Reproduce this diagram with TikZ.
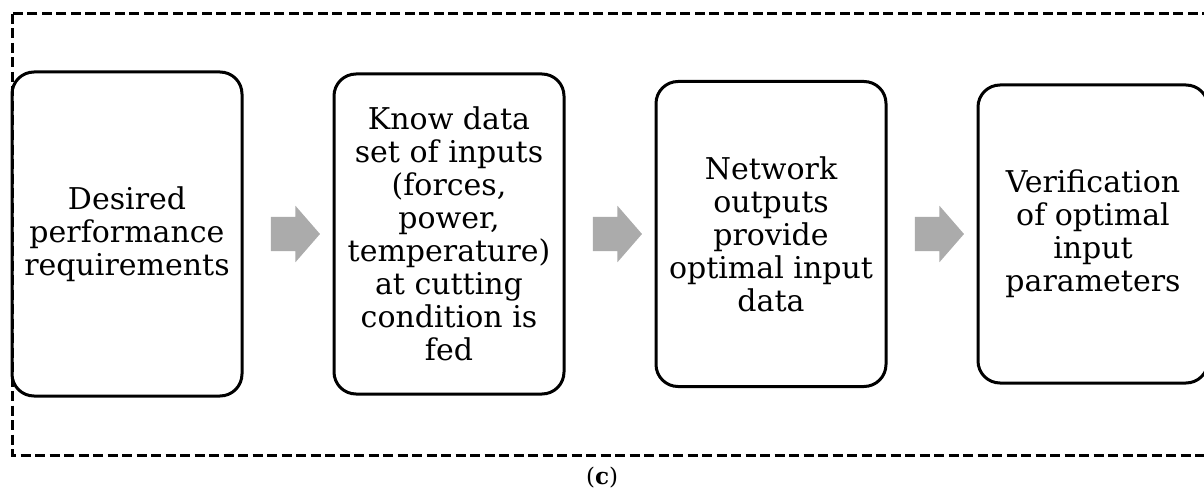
\documentclass[tikz,border=0pt]{standalone}
\usepackage{fontspec}
\setmainfont{DejaVu Serif}
\usepackage{tikz}
\usetikzlibrary{positioning,shapes.arrows,calc}
\tikzstyle{block} = [draw=black, line width=3pt, rounded corners=22pt, minimum width=230pt, inner sep=2pt, align=center, font=\fontsize{30}{33}\selectfont]
\tikzstyle{flow} = [single arrow, fill=black!33, draw=none, minimum height=49pt, inner xsep=0pt, inner ysep=17pt, single arrow head extend=11pt, single arrow tip angle=98]

\begin{document}
\begin{tikzpicture}[x=1pt, y=-1pt, node distance=89pt]
\useasboundingbox (0,0) rectangle (1204,500);

\draw[line width=3pt, dash pattern=on 10pt off 4.5pt] (12,14) rectangle (1215,455);

\node (node0) [block, minimum height=324pt] at (127,234) {Desired\\ performance\\ requirements};

\node (node1) [block, minimum height=320pt, right=of node0] {Know data\\ set of inputs\\ (forces,\\ power,\\ temperature)\\ at cutting\\ condition is\\ fed};

\node (node2) [block, minimum height=305pt, right=of node1] {Network\\ outputs\\ provide\\ optimal input\\ data};

\node (node3) [block, minimum height=298pt, right=of node2] {Verification\\ of optimal\\ input\\ parameters};

\node (arr01) [flow] at ($(node0.east)!0.5!(node1.west)$) {};
\node (arr12) [flow] at ($(node1.east)!0.5!(node2.west)$) {};
\node (arr23) [flow] at ($(node2.east)!0.5!(node3.west)$) {};

\node (label) at (602,478) [font=\fontsize{23}{27}\selectfont] {(\textbf{c})};

\end{tikzpicture}
\end{document}
